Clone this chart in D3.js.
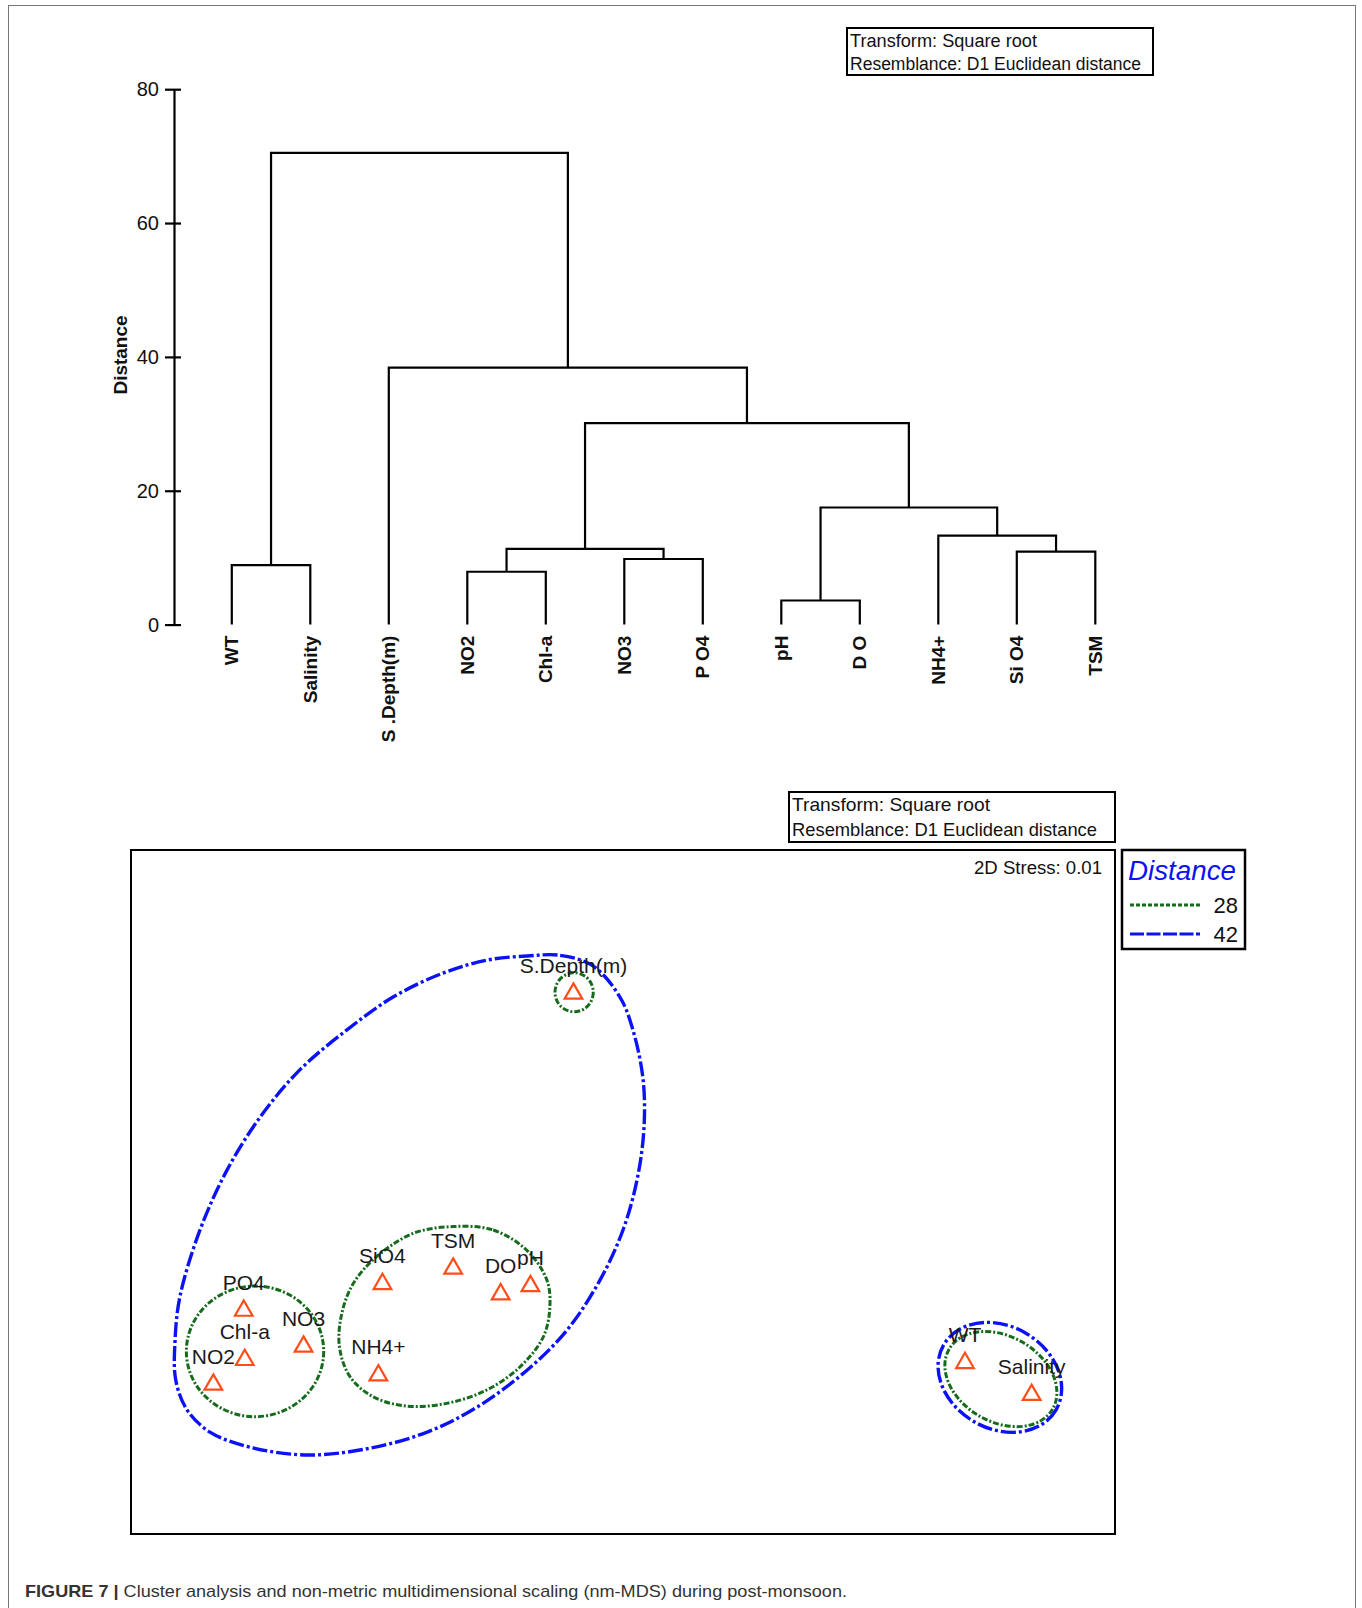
<!DOCTYPE html>
<html><head><meta charset="utf-8">
<script src="https://cdn.jsdelivr.net/npm/d3@7"></script>
<style>
body{margin:0;background:#fff}
svg{display:block}
text{font-family:"Liberation Sans",Arial,Helvetica,sans-serif}
</style>
</head><body>
<svg id="c" width="1362" height="1608"></svg>
<script>
// ---------- Dendrogram data ----------
const leaves = ["WT","Salinity","S.Depth(m)","NO2","Chl-a","NO3","PO4","pH","DO","NH4+","SiO4","TSM"];
const leafLabels = ["WT","Salinity","S .Depth(m)","NO2","Chl-a","NO3","P O4","pH","D O","NH4+","Si O4","TSM"];
// hclust-style merges: negative = leaf (1-based), positive = earlier merge (1-based)
const mergeLeft   = [-1, -8, -4, -6, -11, 3, -10, 2, 6, -3, 1];
const mergeRight  = [-2, -9, -5, -7, -12, 4, 5, 7, 8, 9, 10];
const mergeHeight = [8.9, 3.6, 7.9, 9.8, 10.9, 11.3, 13.3, 17.5, 30.1, 38.4, 70.5];
const distTicks = [0, 20, 40, 60, 80];

// ---------- nMDS data ----------
const mdsNames = ["S.Depth(m)","PO4","Chl-a","NO3","NO2","SiO4","TSM","DO","pH","NH4+","WT","Salinity"];
const mdsX = [-0.145, -1.110, -1.107, -0.935, -1.199, -0.704, -0.497, -0.358, -0.271, -0.716, 1.001, 1.196];
const mdsY = [ 0.583, -0.344, -0.488, -0.449, -0.560, -0.266, -0.221, -0.296, -0.272, -0.533, -0.497, -0.590];

// cluster contour at distance 42 (large group)
const blueContourX = [-0.281,-0.184,-0.088,-0.009,0.029,0.059,0.061,0.041,0.000,-0.067,-0.164,-0.281,-0.427,-0.573,-0.740,-0.922,-1.092,-1.209,-1.276,-1.309,-1.311,-1.297,-1.238,-1.159,-1.062,-0.946,-0.808,-0.673,-0.527,-0.398];
const blueContourY = [0.690,0.692,0.661,0.570,0.474,0.327,0.181,0.035,-0.111,-0.257,-0.404,-0.521,-0.629,-0.702,-0.749,-0.769,-0.746,-0.702,-0.637,-0.550,-0.433,-0.307,-0.111,0.064,0.219,0.357,0.474,0.570,0.640,0.678];
// cluster contour at distance 28 (middle group)
const greenContourX = [-0.497,-0.380,-0.282,-0.223,-0.214,-0.233,-0.301,-0.399,-0.516,-0.633,-0.731,-0.799,-0.830,-0.823,-0.789,-0.721,-0.614];
const greenContourY = [-0.101,-0.111,-0.170,-0.257,-0.335,-0.423,-0.511,-0.579,-0.618,-0.626,-0.599,-0.540,-0.452,-0.355,-0.267,-0.189,-0.121];
// elliptical cluster outlines: centre x, centre y, semi-axes (data units), tilt (deg), level
const ellCX   = [-1.077, -0.143, 1.106, 1.103];
const ellCY   = [-0.466,  0.584, -0.547, -0.542];
const ellRX   = [ 0.201,  0.056, 0.175, 0.190];
const ellRY   = [ 0.191,  0.057, 0.125, 0.150];
const ellRot  = [ 0, 0, 30, 30];
const ellLevel= [28, 28, 28, 42];

const legendLevels = [28, 42];

// ---------- styles ----------
const GREEN = "#176b1d", BLUE = "#0b12f5", ORANGE = "#ff4d1a";
const dashFor = {28: "6 2 2 2", 42: "15 3 3 3"};
const colorFor = {28: GREEN, 42: BLUE};
const widthFor = {28: 3, 42: 3.4};

const svg = d3.select("#c");

// outer figure border
svg.append("rect").attr("x", 8.5).attr("y", 5.5).attr("width", 1347).attr("height", 1640)
  .attr("fill", "none").attr("stroke", "#777").attr("stroke-width", 1);

// ================= DENDROGRAM =================
const axisX = 174;
const xLeaf = d3.scalePoint().domain(leaves).range([231.8, 1095.3]);
const yD = d3.scaleLinear().domain([0, 80]).range([624.6, 89.2]);

const dg = svg.append("g");
const yAxis = d3.axisLeft(yD).tickValues(distTicks).tickSizeInner(9).tickSizeOuter(0).tickPadding(6);
const ax = dg.append("g").attr("transform", `translate(${axisX},0)`).call(yAxis);
ax.select(".domain").attr("stroke", "#000").attr("stroke-width", 2.2);
ax.selectAll(".tick line").attr("x1", 7).attr("stroke", "#000").attr("stroke-width", 2.2);
ax.selectAll(".tick text").attr("font-size", 20).attr("fill", "#111")
  .attr("font-family", "Liberation Sans, Arial, sans-serif");

dg.append("text").attr("transform", `translate(120,355) rotate(-90)`)
  .attr("text-anchor", "middle").attr("dominant-baseline", "central")
  .attr("font-size", 19).attr("font-weight", "bold").attr("fill", "#111").text("Distance");

// compute node positions
const nodeX = [], nodeH = [];
function childPos(c) {
  if (c < 0) return {x: xLeaf(leaves[-c - 1]), h: 0};
  return {x: nodeX[c - 1], h: nodeH[c - 1]};
}
mergeLeft.forEach((l, i) => {
  const a = childPos(l), b = childPos(mergeRight[i]);
  nodeX.push((a.x + b.x) / 2);
  nodeH.push(mergeHeight[i]);
  const h = mergeHeight[i];
  dg.append("path")
    .attr("d", `M${a.x},${yD(a.h)}V${yD(h)}H${b.x}V${yD(b.h)}`)
    .attr("fill", "none").attr("stroke", "#000").attr("stroke-width", 2.2);
});

dg.selectAll("text.leaf").data(leaves).enter().append("text").attr("class", "leaf")
  .attr("transform", d => `translate(${xLeaf(d)},${yD(0) + 11}) rotate(-90)`)
  .attr("text-anchor", "end").attr("dominant-baseline", "central")
  .attr("font-size", 19).attr("font-weight", "bold").attr("fill", "#111")
  .text((d, i) => leafLabels[i]);

// info box
function infoBox(x, y, w, h, fs, lines, lens, baseY) {
  svg.append("rect").attr("x", x).attr("y", y).attr("width", w).attr("height", h)
    .attr("fill", "#fff").attr("stroke", "#000").attr("stroke-width", 2);
  lines.forEach((t, i) => {
    svg.append("text").attr("x", x + 3).attr("y", baseY[i]).attr("font-size", fs)
      .attr("fill", "#111").attr("textLength", lens[i]).attr("lengthAdjust", "spacingAndGlyphs").text(t);
  });
}
infoBox(847, 28, 306, 47, 18, ["Transform: Square root", "Resemblance: D1 Euclidean distance"], [187, 291], [47, 70]);

// ================= nMDS =================
const fx0 = 131, fx1 = 1115, fy0 = 850, fy1 = 1534;
const xM = d3.scaleLinear().domain([-1.44, 1.44]).range([fx0, fx1]);
const yM = d3.scaleLinear().domain([-1, 1]).range([fy1, fy0]);

infoBox(789, 792, 326, 50, 19, ["Transform: Square root", "Resemblance: D1 Euclidean distance"], [198, 305], [811, 836]);

svg.append("rect").attr("x", fx0).attr("y", fy0).attr("width", fx1 - fx0).attr("height", fy1 - fy0)
  .attr("fill", "none").attr("stroke", "#000").attr("stroke-width", 2);

svg.append("text").attr("x", 1102).attr("y", 874).attr("text-anchor", "end")
  .attr("font-size", 18).attr("fill", "#111").attr("textLength", 128).attr("lengthAdjust", "spacingAndGlyphs")
  .text("2D Stress: 0.01");

const mg = svg.append("g");
const closed = d3.line().x(d => xM(d[0])).y(d => yM(d[1])).curve(d3.curveCatmullRomClosed.alpha(0.5));

mg.append("path").attr("d", closed(blueContourX.map((v, i) => [v, blueContourY[i]])))
  .attr("fill", "none").attr("stroke", BLUE).attr("stroke-width", widthFor[42]).attr("stroke-dasharray", dashFor[42]);
mg.append("path").attr("d", closed(greenContourX.map((v, i) => [v, greenContourY[i]])))
  .attr("fill", "none").attr("stroke", GREEN).attr("stroke-width", widthFor[28]).attr("stroke-dasharray", dashFor[28]);

const pxPerUnitX = xM(1) - xM(0), pxPerUnitY = yM(0) - yM(1);
ellCX.forEach((cx, i) => {
  const lv = ellLevel[i];
  mg.append("ellipse")
    .attr("transform", `translate(${xM(cx)},${yM(ellCY[i])}) rotate(${ellRot[i]})`)
    .attr("rx", ellRX[i] * pxPerUnitX).attr("ry", ellRY[i] * pxPerUnitY)
    .attr("fill", "none").attr("stroke", colorFor[lv]).attr("stroke-width", widthFor[lv])
    .attr("stroke-dasharray", dashFor[lv]);
});

const tri = d3.symbol().type(d3.symbolTriangle).size(135);
mg.selectAll("path.pt").data(mdsNames).enter().append("path").attr("class", "pt")
  .attr("transform", (d, i) => `translate(${xM(mdsX[i])},${yM(mdsY[i]) + 1})`)
  .attr("d", tri).attr("fill", "none").attr("stroke", ORANGE).attr("stroke-width", 2.2);

mg.selectAll("text.lab").data(mdsNames).enter().append("text").attr("class", "lab")
  .attr("x", (d, i) => xM(mdsX[i])).attr("y", (d, i) => yM(mdsY[i]) - 20)
  .attr("text-anchor", "middle").attr("font-size", 21).attr("fill", "#1a1a1a").text(d => d);

// legend
const lg = svg.append("g");
lg.append("rect").attr("x", 1122).attr("y", 850).attr("width", 123).attr("height", 99)
  .attr("fill", "#fff").attr("stroke", "#000").attr("stroke-width", 2.5);
lg.append("text").attr("x", 1128).attr("y", 880).attr("font-size", 27).attr("font-style", "italic")
  .attr("fill", BLUE).attr("textLength", 108).attr("lengthAdjust", "spacingAndGlyphs").text("Distance");
legendLevels.forEach((lv, i) => {
  const yy = 905 + i * 29;
  lg.append("line").attr("x1", 1130).attr("x2", 1200).attr("y1", yy).attr("y2", yy)
    .attr("stroke", colorFor[lv]).attr("stroke-width", 3.2)
    .attr("stroke-dasharray", lv === 28 ? "4 2" : "14 2.5");
  lg.append("text").attr("x", 1238).attr("y", yy + 8).attr("text-anchor", "end")
    .attr("font-size", 22).attr("fill", "#111").text(lv);
});

// caption
const cap = svg.append("text").attr("x", 25).attr("y", 1597).attr("font-size", 17).attr("fill", "#333")
  .attr("textLength", 822).attr("lengthAdjust", "spacingAndGlyphs");
cap.append("tspan").attr("font-weight", "bold").text("FIGURE 7 | ");
cap.append("tspan").text("Cluster analysis and non-metric multidimensional scaling (nm-MDS) during post-monsoon.");
</script>
</body></html>
